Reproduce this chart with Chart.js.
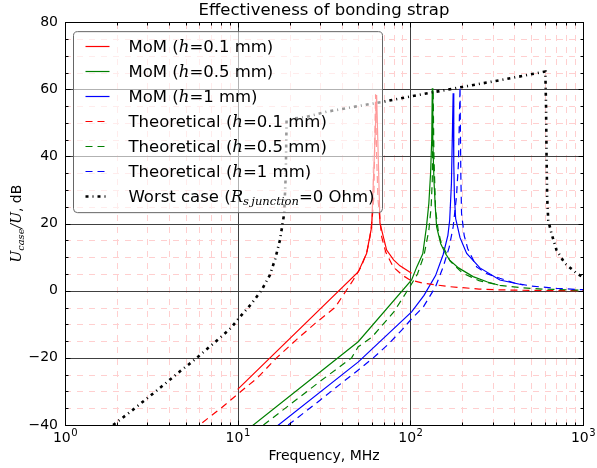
<!DOCTYPE html>
<html>
<head>
<meta charset="utf-8">
<script src="https://cdn.jsdelivr.net/npm/chart.js@4.4.1/dist/chart.umd.min.js"></script>
<style>
  html, body { margin: 0; padding: 0; background: #fff; }
  #wrap { width: 597px; height: 468px; }
</style>
</head>
<body>
<div id="wrap"><canvas id="chart"></canvas></div>
<script>
// MoM results (solid)
const momRedF = [10, 49.9, 55.8, 59.7, 63.8, 66.7, 72.9, 80, 87.1, 101.7];
const momRedDb = [-29.4, 5.6, 11.1, 19.0, 58.3, 20.1, 12.1, 9.2, 7.4, 5.2];

const momGreenF = [10, 49.9, 101.7, 109, 118, 124, 128, 131, 133, 134, 135, 137, 139.5, 142, 150, 160, 169, 190, 231, 280, 323];
const momGreenDb = [-43.7, -15.2, 3.2, 7.1, 11, 19, 26, 35, 45, 60.3, 45, 33, 25, 19, 14, 11, 9.1, 6.8, 4.2, 2.6, 1.7];

const momBlueF = [10, 50, 101.7, 120, 140, 155, 165, 169, 173, 177, 178.5, 180, 183, 194, 212, 253, 330, 451];
const momBlueDb = [-49.6, -21.2, -6.3, -1.4, 4.5, 10.8, 16.5, 21, 32, 58.8, 38, 28, 21.5, 15.8, 11.1, 6.8, 3.2, 1.7];

// theoretical curves (dashed)
const thRedF = [5.5, 8, 10, 13, 16.8, 22, 28, 36.6, 46.7, 52, 56, 58.4, 60, 61.5, 62.9, 63.8, 65, 68.2, 72, 79.6, 90, 99.5, 120, 169, 250, 330, 500, 700, 1000];
const thRedDb = [-41.5, -35, -30.8, -26, -20, -14.5, -9.8, -5, 3.2, 7.2, 11.5, 16.1, 21, 28, 58.5, 40, 27, 16.1, 11.5, 7.1, 4.6, 3.2, 2.2, 1.2, 0.5, 0.25, 0.1, 0.05, 0.02];

const thGreenF = [14.1, 20, 30, 45.7, 49.9, 60, 80, 99.5, 110, 120, 128, 132, 134, 135.5, 137, 140, 145, 150, 170, 200, 250, 330, 450, 600, 1000];
const thGreenDb = [-40, -34, -27, -20, -16.7, -13.8, -6.4, 1.2, 5, 10.5, 18, 25, 33, 60, 40, 24, 18, 14.7, 8.8, 5.3, 3.0, 1.6, 0.83, 0.46, 0.16];

const thBlueF = [19.6, 25, 30, 40, 50, 61, 75, 90, 100, 119, 140, 155, 168, 177, 185, 190, 194, 196, 198, 205, 215, 242, 280, 330, 400, 500, 700, 1000];
const thBlueDb = [-40, -35.8, -32.6, -27.5, -23.6, -20, -15.8, -11.5, -8.8, -4.8, 1.2, 7.1, 13, 19, 28, 38, 60.7, 35, 23, 16.5, 12.5, 7.1, 5, 3.7, 2.3, 1.4, 0.7, 0.3];

// worst case, R = 0
const wcF = [1.9, 2.4, 3.37, 4.69, 5.53, 6.53, 7.72, 9.1, 10.55, 12.05, 13.77, 15.38, 16.5, 17.58, 18.6, 19.0, 19.2, 20, 25, 32.7, 50, 70, 111, 200, 330, 450, 605, 611, 615, 620, 629, 658, 703, 785, 918, 1000];
const wcDb = [-40, -36, -29.9, -23.8, -20.9, -17.7, -14.5, -11.2, -7.2, -3.8, 0.2, 4.7, 9.5, 15.1, 23, 35, 50.8, 51.1, 51.8, 53.3, 55, 56.3, 58.3, 60.7, 62.7, 64, 65.3, 55, 40, 28, 21, 16.9, 12.1, 8.15, 5.2, 4.0];

const xTicks = [1, 10, 100, 1000];
const xTickExp = ['0', '1', '2', '3'];
const yTicks = [-40, -20, 0, 20, 40, 60, 80];

const labels = [
    'MoM ($h$=0.1 mm)', 'MoM ($h$=0.5 mm)', 'MoM ($h$=1 mm)',
    'Theoretical ($h$=0.1 mm)', 'Theoretical ($h$=0.5 mm)', 'Theoretical ($h$=1 mm)',
    'Worst case ($R_{s\u2009junction}$=0 Ohm)'
];

const SANS = '"DejaVu Sans", sans-serif';
const SERIF = '"DejaVu Serif", serif';
const DASH = [7, 5];
const DASHDOT = [3, 4, 1, 4];

const pts = (fs, ds) => fs.map((f, i) => ({x: f, y: ds[i]}));

const series = [
    [momRedF, momRedDb, '#ff0000', []],
    [momGreenF, momGreenDb, '#008000', []],
    [momBlueF, momBlueDb, '#0000ff', []],
    [thRedF, thRedDb, '#ff0000', DASH],
    [thGreenF, thGreenDb, '#008000', DASH],
    [thBlueF, thBlueDb, '#0000ff', DASH],
    [wcF, wcDb, '#000000', DASHDOT]
];

const datasets = series.map(([f, d, color, dash], i) => ({
    label: labels[i].replace(/\$/g, ''),
    data: pts(f, d),
    borderColor: color,
    borderDash: dash,
    borderWidth: i === 6 ? 2.6 : 1.2,
    pointRadius: 0,
    tension: 0,
    fill: false,
    order: 7 - i
}));

// split "$...$" math parts; math is italic serif, _{..} gives subscript
const runsOf = str => {
    const runs = [];
    str.split('$').forEach((part, k) => {
        if (k % 2 === 0) {
            if (part) runs.push({t: part, math: false, sub: false});
            return;
        }
        let i = 0;
        while (i < part.length) {
            if (part[i] === '_' && part[i + 1] === '{') {
                const j = part.indexOf('}', i);
                runs.push({t: part.slice(i + 2, j), math: true, sub: true});
                i = j + 1;
            } else {
                let j = i;
                while (j < part.length && part[j] !== '_') j++;
                runs.push({t: part.slice(i, j), math: true, sub: false});
                i = j;
            }
        }
    });
    return runs;
};

const fontFor = (r, size) => r.math
    ? `italic ${r.sub ? size * 0.7 : size}px ${SERIF}`
    : `${size}px ${SANS}`;

const richWidth = (ctx, str, size) => runsOf(str).reduce((w, r) => {
    ctx.font = fontFor(r, size);
    return w + ctx.measureText(r.t).width;
}, 0);

const drawRich = (ctx, str, x, y, size) => {
    runsOf(str).forEach(r => {
        ctx.font = fontFor(r, size);
        ctx.fillText(r.t, x, r.sub ? y + size * 0.22 : y);
        x += ctx.measureText(r.t).width;
    });
};

const hline = (ctx, x0, x1, y) => { ctx.beginPath(); ctx.moveTo(x0, y); ctx.lineTo(x1, y); ctx.stroke(); };
const vline = (ctx, x, y0, y1) => { ctx.beginPath(); ctx.moveTo(x, y0); ctx.lineTo(x, y1); ctx.stroke(); };
const snap = v => Math.round(v) + 0.5;

const xMinor = [];
[1, 10, 100].forEach(d => { for (let k = 2; k <= 9; k++) xMinor.push(k * d); });
const yMinor = [];
for (let v = -35; v < 80; v += 5) if (v % 20 !== 0) yMinor.push(v);

const gridPlugin = {
    id: 'mplGrid',
    beforeDatasetsDraw(chart) {
        const {ctx, chartArea: a, scales: {x, y}} = chart;
        ctx.save();
        ctx.lineWidth = 1;
        ctx.strokeStyle = '#ffcfcf';
        ctx.setLineDash([6, 6]);
        xMinor.forEach(v => vline(ctx, snap(x.getPixelForValue(v)), a.bottom, a.top));
        yMinor.forEach(v => hline(ctx, a.left, a.right, snap(y.getPixelForValue(v))));
        ctx.setLineDash([]);
        ctx.strokeStyle = '#404040';
        xTicks.slice(1, -1).forEach(v => vline(ctx, snap(x.getPixelForValue(v)), a.bottom, a.top));
        yTicks.slice(1, -1).forEach(v => hline(ctx, a.left, a.right, snap(y.getPixelForValue(v))));
        ctx.restore();
    },
    afterDatasetsDraw(chart) {
        const {ctx, chartArea: a, scales: {x, y}} = chart;
        ctx.save();
        // frame and inward ticks
        ctx.strokeStyle = '#000';
        ctx.lineWidth = 1;
        const l = snap(a.left), r = snap(a.right), t = snap(a.top), b = snap(a.bottom);
        ctx.strokeRect(l, t, r - l, b - t);
        xTicks.forEach(v => { const p = snap(x.getPixelForValue(v)); vline(ctx, p, b, b - 5); vline(ctx, p, t, t + 5); });
        xMinor.forEach(v => { const p = snap(x.getPixelForValue(v)); vline(ctx, p, b, b - 3); vline(ctx, p, t, t + 3); });
        yTicks.forEach(v => { const p = snap(y.getPixelForValue(v)); hline(ctx, l, l + 5, p); hline(ctx, r, r - 5, p); });
        yMinor.forEach(v => { const p = snap(y.getPixelForValue(v)); hline(ctx, l, l + 3, p); hline(ctx, r, r - 3, p); });

        // x tick labels 10^n
        ctx.fillStyle = '#000';
        ctx.textBaseline = 'alphabetic';
        xTicks.forEach((v, i) => {
            ctx.font = `14px ${SANS}`;
            const wb = ctx.measureText('10').width;
            ctx.font = `10px ${SANS}`;
            const we = ctx.measureText(xTickExp[i]).width;
            const x0 = x.getPixelForValue(v) - (wb + we) / 2;
            ctx.font = `14px ${SANS}`;
            ctx.fillText('10', x0, a.bottom + 17);
            ctx.font = `10px ${SANS}`;
            ctx.fillText(xTickExp[i], x0 + wb + 0.5, a.bottom + 10.5);
        });

        // legend, upper left
        const size = 16.5;
        const textW = Math.max(...labels.map(s => richWidth(ctx, s, size)));
        const bx = a.left + 8.5, by = a.top + 9.5;
        const bw = Math.round(55 + textW + 8), bh = 181;
        ctx.beginPath();
        ctx.roundRect(bx, by, bw, bh, 4);
        ctx.fillStyle = 'rgba(255,255,255,0.6)';
        ctx.fill();
        ctx.strokeStyle = '#666';
        ctx.stroke();
        ctx.fillStyle = '#000';
        datasets.forEach((ds, i) => {
            const cy = by + 14 + i * 25;
            ctx.strokeStyle = ds.borderColor;
            ctx.lineWidth = ds.borderWidth;
            ctx.setLineDash(ds.borderDash);
            hline(ctx, bx + 12, bx + 36, Math.round(cy) + 0.5);
            ctx.setLineDash([]);
            drawRich(ctx, labels[i], bx + 55, cy + 6, size);
        });

        // y axis label, rotated
        const ylab = '$U_{case}/U$, dB';
        const fs = 14;
        const w = richWidth(ctx, ylab, fs);
        ctx.translate(21, (a.top + a.bottom) / 2);
        ctx.rotate(-Math.PI / 2);
        drawRich(ctx, ylab, -w / 2, 0, fs);
        ctx.restore();
    }
};

Chart.defaults.font.family = SANS;
Chart.defaults.color = '#000';

new Chart('chart', {
    type: 'line',
    data: {datasets},
    options: {
        responsive: true,
        maintainAspectRatio: false,
        animation: false,
        layout: {padding: {left: 0, right: 14, top: 0, bottom: 0}},
        plugins: {
            legend: {display: false},
            tooltip: {enabled: false},
            title: {
                display: true,
                text: 'Effectiveness of bonding strap',
                fullSize: false,
                color: '#000',
                font: {size: 16.5, weight: 'normal', lineHeight: 1.1},
                padding: {top: 2, bottom: 2}
            }
        },
        scales: {
            x: {
                type: 'logarithmic',
                min: 1,
                max: 1000,
                afterBuildTicks: axis => { axis.ticks = xTicks.map(v => ({value: v})); },
                afterFit: scale => { scale.height = 43; },
                grid: {display: false, drawTicks: false},
                border: {display: false},
                ticks: {display: false},
                title: {
                    display: true,
                    text: 'Frequency, MHz',
                    font: {size: 14},
                    padding: {top: 0, bottom: 3}
                }
            },
            y: {
                type: 'linear',
                min: -40,
                max: 80,
                afterBuildTicks: axis => { axis.ticks = yTicks.map(v => ({value: v})); },
                afterFit: scale => { scale.width = 65; },
                grid: {display: false, drawTicks: false},
                border: {display: false},
                ticks: {
                    padding: 7,
                    font: {size: 14},
                    callback: v => (v < 0 ? '\u2212' : '') + Math.abs(v)
                }
            }
        }
    },
    plugins: [gridPlugin]
});
</script>
</body>
</html>
